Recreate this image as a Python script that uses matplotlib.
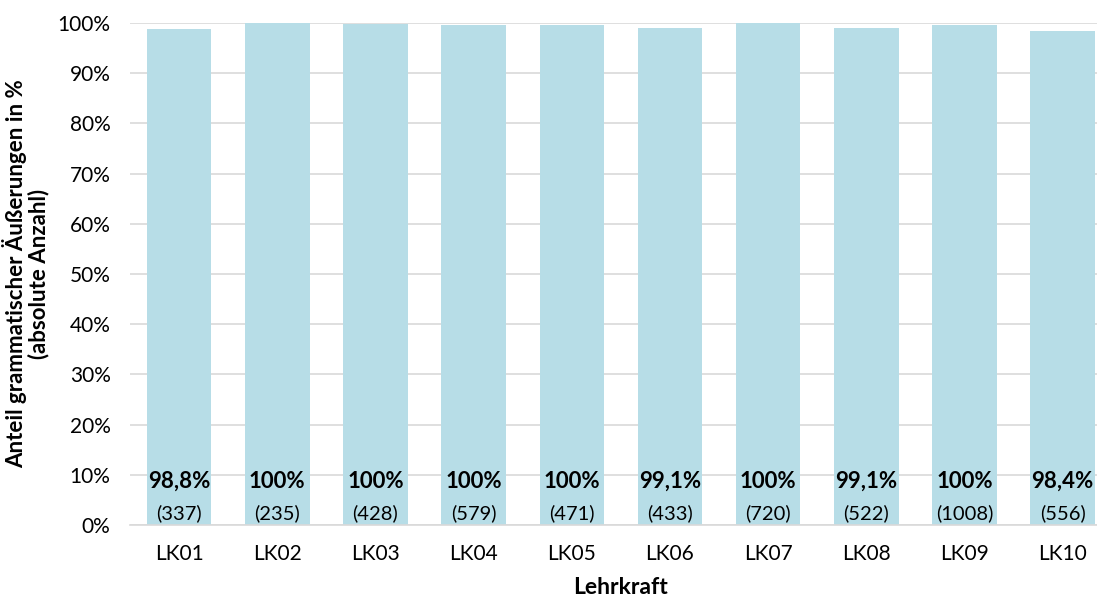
import matplotlib.pyplot as plt
import numpy as np

plt.rcParams['font.family'] = ['Lato', 'DejaVu Sans']

# data
teachers = ['LK01', 'LK02', 'LK03', 'LK04', 'LK05', 'LK06', 'LK07', 'LK08', 'LK09', 'LK10']
share = [98.8, 100, 99.8, 99.6, 99.6, 99.1, 100, 99.1, 99.7, 98.4]
share_labels = ['98,8%', '100%', '100%', '100%', '100%', '99,1%', '100%', '99,1%', '100%', '98,4%']
counts = [337, 235, 428, 579, 471, 433, 720, 522, 1008, 556]

bar_color = '#B7DDE7'
grid_color = '#D9D9D9'

fig = plt.figure(figsize=(10.97, 6.01), dpi=100)
ax = fig.add_axes([0.1185, 0.1265, 0.895, 0.8352])

x = np.arange(len(teachers))
ax.bar(x, share, width=0.657, color=bar_color, zorder=2)

for i in range(len(teachers)):
    ax.text(x[i], 8.7, share_labels[i], ha='center', va='center',
            fontsize=16, fontweight='bold', color='black', zorder=3)
    ax.text(x[i], 2.3, '(' + str(counts[i]) + ')', ha='center', va='center',
            fontsize=14.5, color='black', zorder=3)

ax.set_xlim(-0.5, len(teachers) - 0.5)
ax.set_ylim(0, 100)
ax.set_yticks(np.arange(0, 101, 10))
ax.set_yticklabels([f'{v}%' for v in range(0, 101, 10)])
ax.set_xticks(x)
ax.set_xticklabels(teachers)
ax.tick_params(axis='both', length=0, labelsize=15, colors='black')
ax.tick_params(axis='x', pad=14)
ax.tick_params(axis='y', pad=14)

ax.grid(axis='y', color=grid_color, linewidth=1.2, zorder=0)
for s in ['top', 'right', 'left']:
    ax.spines[s].set_visible(False)
ax.spines['bottom'].set_color(grid_color)
ax.spines['bottom'].set_linewidth(1.2)

ax.set_xlabel('Lehrkraft', fontsize=16.5, fontweight='bold', labelpad=9)
ax.set_ylabel('Anteil grammatischer Äußerungen in %\n(absolute Anzahl)',
              fontsize=16, fontweight='bold', labelpad=6, linespacing=1.05)

fig.savefig('out.png', dpi=100)
